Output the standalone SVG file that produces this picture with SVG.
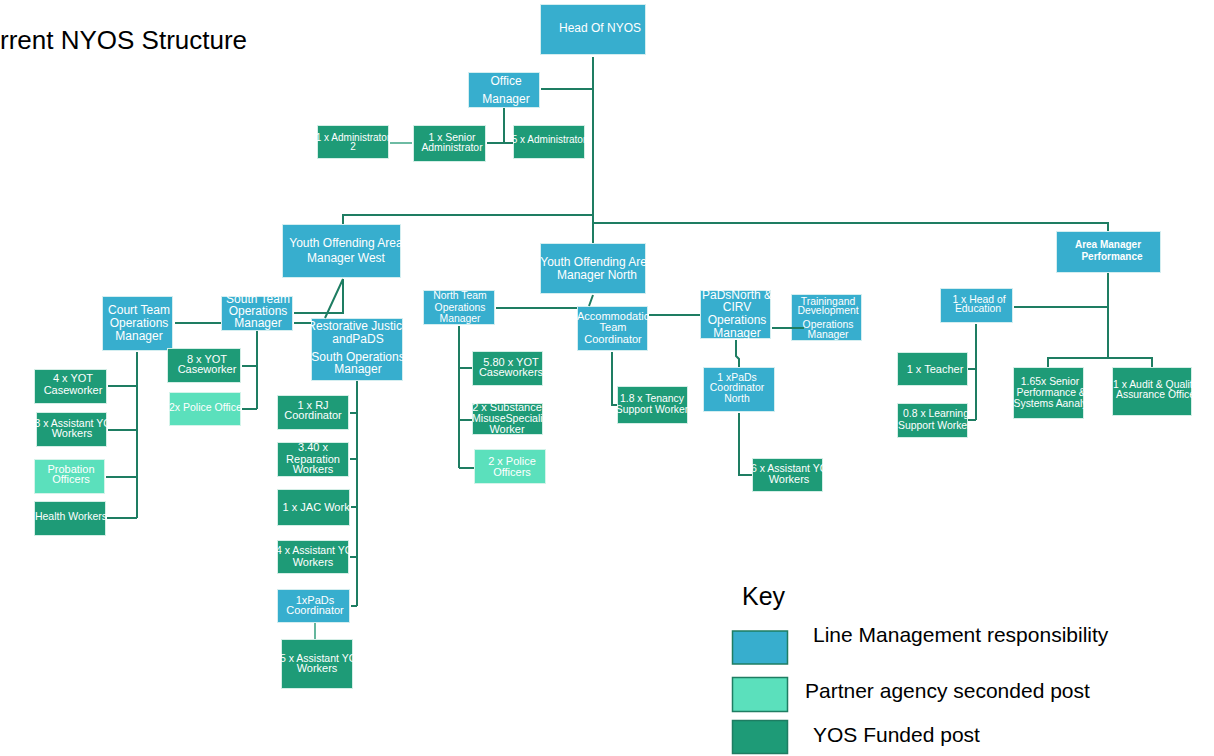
<svg xmlns="http://www.w3.org/2000/svg" width="1214" height="756" viewBox="0 0 1214 756">
<style>
.b{fill:#37AECE;stroke:#d4eef0;stroke-width:1}
.g{fill:#1E9B77;stroke:#d4eee6;stroke-width:1}
.l{fill:#5BE0BC;stroke:#d4f4ea;stroke-width:1}
text{font-family:"Liberation Sans",Arial,sans-serif}
.t{fill:#fff;text-anchor:middle}
.st{text-anchor:start}
.s12{font-size:12px}
.s11{font-size:11px}
.s10{font-size:10.4px}
.bd{font-size:10px;font-weight:bold}
.c{fill:none;stroke:#1E7D62;stroke-width:2}
.c2{fill:none;stroke:#3FA585;stroke-width:1.6}
.k{fill:#000;font-size:21px}
.kb{stroke:#1E7D62;stroke-width:1.5}
</style>
<rect width="1214" height="756" fill="#fff"/>
<text x="0" y="49" style="font-size:26px;fill:#000">rrent NYOS Structure</text>

<g id="n-head"><svg x="540" y="4" width="106" height="51" viewBox="540 4 106 51"><rect class="b" x="540.5" y="4.5" width="105" height="50"/><text class="t s12" x="600" y="32">Head Of NYOS</text></svg></g>
<g id="n-office"><svg x="468" y="72" width="72" height="36" viewBox="468 72 72 36"><rect class="b" x="468.5" y="72.5" width="71" height="35"/><text class="t s12" x="506" y="85">Office</text><text class="t s12" x="506" y="103">Manager</text></svg></g>
<g id="n-admin2"><svg x="317" y="125" width="72" height="34" viewBox="317 125 72 34"><rect class="g" x="317.5" y="125.5" width="71" height="33"/><text class="t" style="font-size:10px" x="353" y="141">1 x Administrator</text><text class="t" style="font-size:10px" x="353" y="150">2</text></svg></g>
<g id="n-senior"><svg x="413" y="125" width="73" height="37" viewBox="413 125 73 37"><rect class="g" x="413.5" y="125.5" width="72" height="36"/><text class="t s10" x="452" y="141">1 x Senior</text><text class="t s10" x="452" y="151">Administrator</text></svg></g>
<g id="n-admin5"><svg x="513" y="125" width="72" height="34" viewBox="513 125 72 34"><rect class="g" x="513.5" y="125.5" width="71" height="33"/><text class="t" style="font-size:10px" x="549" y="143">5 x Administrator</text></svg></g>

<g id="n-west"><svg x="282" y="224" width="119" height="54" viewBox="282 224 119 54"><rect class="b" x="282.5" y="224.5" width="118" height="53"/><text class="t s12" x="346" y="247">Youth Offending Area</text><text class="t s12" x="346" y="262">Manager West</text></svg></g>
<g id="n-north"><svg x="540" y="243" width="106" height="51" viewBox="540 243 106 51"><rect class="b" x="540.5" y="243.5" width="105" height="50"/><text class="t s12" x="597" y="266">Youth Offending Area</text><text class="t s12" x="597" y="279">Manager North</text></svg></g>
<g id="n-perf"><svg x="1056" y="231" width="105" height="42" viewBox="1056 231 105 42"><rect class="b" x="1056.5" y="231.5" width="104" height="41"/><text class="t bd" x="1108" y="248">Area Manager</text><text class="t bd" x="1112" y="260">Performance</text></svg></g>

<g id="n-court"><svg x="102" y="296" width="71" height="55" viewBox="102 296 71 55"><rect class="b" x="102.5" y="296.5" width="70" height="54"/><text class="t s12" x="139" y="314">Court Team</text><text class="t s12" x="139" y="327">Operations</text><text class="t s12" x="139" y="340">Manager</text></svg></g>
<g id="n-south"><svg x="221" y="296" width="72" height="35" viewBox="221 296 72 35"><rect class="b" x="221.5" y="296.5" width="71" height="34"/><text class="t s12" x="258" y="303">South Team</text><text class="t s12" x="258" y="315">Operations</text><text class="t s12" x="258" y="327">Manager</text></svg></g>
<g id="n-restor"><svg x="311" y="318" width="92" height="63" viewBox="311 318 92 63"><rect class="b" x="311.5" y="318.5" width="91" height="62"/><text class="t s12" x="358" y="330">Restorative Justice</text><text class="t s12" x="358" y="343">andPaDS</text><text class="t s12" x="358" y="361">South Operations</text><text class="t s12" x="358" y="373">Manager</text></svg></g>

<g id="n-yot4"><svg x="34" y="369" width="73" height="35" viewBox="34 369 73 35"><rect class="g" x="34.5" y="369.5" width="72" height="34"/><text class="t s11" x="73" y="382">4 x YOT</text><text class="t s11" x="73" y="394">Caseworker</text></svg></g>
<g id="n-asst3"><svg x="36" y="412" width="71" height="35" viewBox="36 412 71 35"><rect class="g" x="36.5" y="412.5" width="70" height="34"/><text class="t st" style="font-size:10.5px" x="34.5" y="427">3 x Assistant YOT</text><text class="t s11" x="72" y="437">Workers</text></svg></g>
<g id="n-prob"><svg x="34" y="459" width="71" height="35" viewBox="34 459 71 35"><rect class="l" x="34.5" y="459.5" width="70" height="34"/><text class="t s11" x="71" y="473">Probation</text><text class="t s11" x="71" y="483">Officers</text></svg></g>
<g id="n-health"><svg x="34" y="501" width="72" height="35" viewBox="34 501 72 35"><rect class="g" x="34.5" y="501.5" width="71" height="34"/><text class="t" style="font-size:10.5px" x="71" y="520">Health Workers</text></svg></g>
<g id="n-yot8"><svg x="167" y="348" width="74" height="35" viewBox="167 348 74 35"><rect class="g" x="167.5" y="348.5" width="73" height="34"/><text class="t s11" x="207" y="363">8 x YOT</text><text class="t s11" x="207" y="373">Caseworker</text></svg></g>
<g id="n-police2x"><svg x="169" y="392" width="72" height="34" viewBox="169 392 72 34"><rect class="l" x="169.5" y="392.5" width="71" height="33"/><text class="t st" style="font-size:10.5px" x="169" y="411">2x Police Officer</text></svg></g>
<g id="n-rj"><svg x="277" y="395" width="72" height="35" viewBox="277 395 72 35"><rect class="g" x="277.5" y="395.5" width="71" height="34"/><text class="t s11" x="313" y="409">1 x RJ</text><text class="t s11" x="313" y="419">Coordinator</text></svg></g>
<g id="n-rep"><svg x="277" y="442" width="72" height="35" viewBox="277 442 72 35"><rect class="g" x="277.5" y="442.5" width="71" height="34"/><text class="t s11" x="313" y="451">3.40 x</text><text class="t s11" x="313" y="463">Reparation</text><text class="t s11" x="313" y="473">Workers</text></svg></g>
<g id="n-jac"><svg x="277" y="489" width="73" height="37" viewBox="277 489 73 37"><rect class="g" x="277.5" y="489.5" width="72" height="36"/><text class="t s11" x="321" y="511">1 x JAC Worker</text></svg></g>
<g id="n-asst4"><svg x="277" y="540" width="72" height="34" viewBox="277 540 72 34"><rect class="g" x="277.5" y="540.5" width="71" height="33"/><text class="t st" style="font-size:10.5px" x="276" y="554">4 x Assistant YOT</text><text class="t s11" x="313" y="566">Workers</text></svg></g>
<g id="n-pads1"><svg x="277" y="589" width="73" height="34" viewBox="277 589 73 34"><rect class="b" x="277.5" y="589.5" width="72" height="33"/><text class="t s11" x="315" y="604">1xPaDs</text><text class="t s11" x="315" y="614">Coordinator</text></svg></g>
<g id="n-asst5"><svg x="281" y="639" width="72" height="50" viewBox="281 639 72 50"><rect class="g" x="281.5" y="639.5" width="71" height="49"/><text class="t st" style="font-size:10.5px" x="280" y="662">5 x Assistant YOT</text><text class="t s11" x="317" y="672">Workers</text></svg></g>

<g id="n-nteam"><svg x="423" y="290" width="72" height="35" viewBox="423 290 72 35"><rect class="b" x="423.5" y="290.5" width="71" height="34"/><text class="t s10" x="460" y="299">North Team</text><text class="t s10" x="460" y="311">Operations</text><text class="t s10" x="460" y="322">Manager</text></svg></g>
<g id="n-accom"><svg x="577" y="306" width="71" height="45" viewBox="577 306 71 45"><rect class="b" x="577.5" y="306.5" width="70" height="44"/><text class="t st s11" x="577" y="320">Accommodation</text><text class="t s11" x="613" y="331">Team</text><text class="t s11" x="613" y="343">Coordinator</text></svg></g>
<g id="n-yot580"><svg x="472" y="351" width="71" height="35" viewBox="472 351 71 35"><rect class="g" x="472.5" y="351.5" width="70" height="34"/><text class="t s11" x="511" y="366">5.80 x YOT</text><text class="t s11" x="511" y="376">Caseworkers</text></svg></g>
<g id="n-subst"><svg x="472" y="403" width="71" height="32" viewBox="472 403 71 32"><rect class="g" x="472.5" y="403.5" width="70" height="31"/><text class="t s11" x="507" y="411">2 x Substance</text><text class="t st" style="font-size:10.6px" x="472" y="422">MisuseSpecialist</text><text class="t s11" x="507" y="433">Worker</text></svg></g>
<g id="n-police2"><svg x="474" y="449" width="72" height="35" viewBox="474 449 72 35"><rect class="l" x="474.5" y="449.5" width="71" height="34"/><text class="t s11" x="512" y="465">2 x Police</text><text class="t s11" x="512" y="476">Officers</text></svg></g>
<g id="n-tenancy"><svg x="617" y="386" width="71" height="38" viewBox="617 386 71 38"><rect class="g" x="617.5" y="386.5" width="70" height="37"/><text class="t s10" x="652" y="402">1.8 x Tenancy</text><text class="t s10" x="652" y="413">Support Worker</text></svg></g>
<g id="n-padsn"><svg x="700" y="290" width="71" height="49" viewBox="700 290 71 49"><rect class="b" x="700.5" y="290.5" width="70" height="48"/><text class="t s12" x="737" y="299">PaDsNorth &amp;</text><text class="t s12" x="737" y="311">CIRV</text><text class="t s12" x="737" y="324">Operations</text><text class="t s12" x="737" y="337">Manager</text></svg></g>
<g id="n-train"><svg x="791" y="294" width="71" height="47" viewBox="791 294 71 47"><rect class="b" x="791.5" y="294.5" width="70" height="46"/><text class="t s10" x="828" y="305">Trainingand</text><text class="t s10" x="828" y="314">Development</text><text class="t s10" x="828" y="328">Operations</text><text class="t s10" x="828" y="338">Manager</text></svg></g>
<g id="n-padsc"><svg x="703" y="367" width="72" height="45" viewBox="703 367 72 45"><rect class="b" x="703.5" y="367.5" width="71" height="44"/><text class="t s10" x="737" y="381">1 xPaDs</text><text class="t s10" x="737" y="391">Coordinator</text><text class="t s10" x="737" y="402">North</text></svg></g>
<g id="n-asst6"><svg x="752" y="458" width="71" height="34" viewBox="752 458 71 34"><rect class="g" x="752.5" y="458.5" width="70" height="33"/><text class="t st" style="font-size:10.5px" x="751" y="472">6 x Assistant YOT</text><text class="t s11" x="789" y="483">Workers</text></svg></g>

<g id="n-hoe"><svg x="940" y="288" width="73" height="35" viewBox="940 288 73 35"><rect class="b" x="940.5" y="288.5" width="72" height="34"/><text class="t s10" x="979" y="303">1 x Head of</text><text class="t s10" x="978" y="312">Education</text></svg></g>
<g id="n-teacher"><svg x="897" y="352" width="71" height="34" viewBox="897 352 71 34"><rect class="g" x="897.5" y="352.5" width="70" height="33"/><text class="t s11" x="935" y="373">1 x Teacher</text></svg></g>
<g id="n-learn"><svg x="897" y="403" width="71" height="35" viewBox="897 403 71 35"><rect class="g" x="897.5" y="403.5" width="70" height="34"/><text class="t s10" x="936" y="417">0.8 x Learning</text><text class="t st s10" x="898" y="429">Support Worker</text></svg></g>
<g id="n-sperf"><svg x="1013" y="367" width="71" height="52" viewBox="1013 367 71 52"><rect class="g" x="1013.5" y="367.5" width="70" height="51"/><text class="t s10" x="1050" y="385">1.65x Senior</text><text class="t st s10" x="1016.5" y="396">Performance &amp;</text><text class="t st s10" x="1013.5" y="407">Systems Aanalyst</text></svg></g>
<g id="n-audit"><svg x="1112" y="367" width="80" height="49" viewBox="1112 367 80 49"><rect class="g" x="1112.5" y="367.5" width="79" height="48"/><text class="t st s10" x="1113" y="388">1 x Audit &amp; Quality</text><text class="t st s10" x="1116" y="398">Assurance Officer</text></svg></g>

<g id="connectors">
<path class="c" d="M593 57V243M541 89H593M504 108V143M487 143H513"/>
<path class="c2" d="M390 143H412M315 623V639"/>
<path class="c" d="M343 224V215H593M593 223H1108V231"/>
<path class="c" d="M175 323H221M294 313H343V279M343 279L325 318M294 323H311"/>
<path class="c" d="M137 352V518M108 386H137M108 430H137M106 477H137M107 518H137"/>
<path class="c" d="M257 331V409M242 366H257M242 409H257"/>
<path class="c" d="M357 381V606M350 413H357M350 459H357M351 507H357M350 557H357M351 606H357"/>
<path class="c" d="M593 295L589 306M496 308H577M649 315H700M772 328H804"/>
<path class="c" d="M459 326V468M459 368H472M459 420H472M459 468H474"/>
<path class="c" d="M612 352V405H617M736 340V356L739 359V367M739 413V475H752"/>
<path class="c" d="M1108 273V358M1014 307H1108M1048 367V358H1152V367"/>
<path class="c" d="M976 324V420M968 369H976M968 420H976"/>
</g>

<g id="key">
<text x="742" y="605" style="font-size:25px;fill:#000">Key</text>
<rect class="kb" x="732.5" y="631" width="55" height="33" fill="#37AECE"/>
<rect class="kb" x="732.5" y="677.5" width="55" height="34" fill="#5BE0BC"/>
<rect class="kb" x="732.5" y="720.5" width="55" height="33" fill="#1E9B77"/>
<text class="k" x="813" y="642">Line Management responsibility</text>
<text class="k" x="805" y="698">Partner agency seconded post</text>
<text class="k" x="813" y="742">YOS Funded post</text>
</g>
</svg>
